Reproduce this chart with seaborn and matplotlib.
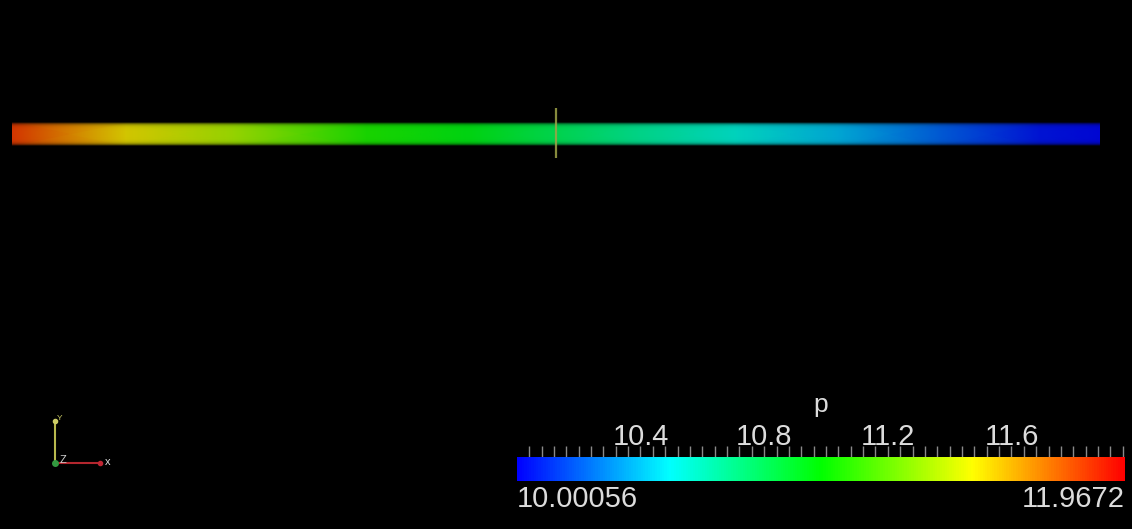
import numpy as np
import matplotlib
matplotlib.use("Agg")
import matplotlib.pyplot as plt
from matplotlib.ticker import MultipleLocator
from matplotlib.colors import Normalize
from matplotlib.cm import ScalarMappable
from matplotlib.transforms import blended_transform_factory
import seaborn as sns

# Pressure sampled along the pipe axis (0 = inlet end, 1 = outlet end)
pipe_pos = [0.0, 0.105, 0.203, 0.326, 0.421, 0.5, 0.575, 0.666, 0.761, 0.853, 0.945, 1.0]
pressure = [11.84, 11.50, 11.33, 11.04, 10.94, 10.80, 10.67, 10.54, 10.39, 10.21, 10.05, 10.02]

# Scalar range and labelled ticks of the field
field_name = "p"
p_min = 10.00056
p_max = 11.9672
p_ticks = [10.4, 10.8, 11.2, 11.6]
p_minor_step = 0.04

# Probe slice location along the pipe
probe_pos = 0.5

sns.set_theme(style="dark", rc={"axes.facecolor": "black",
                                "figure.facecolor": "black",
                                "savefig.facecolor": "black"})
plt.rcParams["font.family"] = ["Liberation Sans", "DejaVu Sans"]

# Blue -> cyan -> green -> yellow -> red rainbow
rainbow = sns.blend_palette(["#0000ff", "#00ffff", "#00ff00", "#ffff00", "#ff0000"],
                            n_colors=256, as_cmap=True)
norm = Normalize(p_min, p_max)

W, H = 1132, 529
fig = plt.figure(figsize=(W / 100, H / 100), dpi=100, facecolor="black")


def px_axes(x0, y0, x1, y1):
    return fig.add_axes([x0 / W, 1 - y1 / H, (x1 - x0) / W, (y1 - y0) / H])


# ---- pipe coloured by pressure ----
ax = px_axes(12, 99, 1100, 169)
n = len(pipe_pos)
X = np.array([pipe_pos, pipe_pos])
Y = np.array([[-1.15] * n, [1.15] * n])
C = np.array([pressure, pressure])
ax.pcolormesh(X, Y, C, cmap=rainbow, norm=norm, shading="gouraud",
              antialiased=False)

# cylinder shading: darker towards the rim, fading into the background
r = np.linspace(-1.2, 1.2, 61)
shade = np.zeros((61, 1, 4))
shade[:, 0, 3] = np.clip(0.18 + 0.82 * (np.abs(r) / 1.2) ** 6, 0, 1)
ax.imshow(shade, extent=(-0.01, 1.01, -1.2, 1.2), aspect="auto", origin="lower",
          interpolation="bilinear", zorder=2)

ax.vlines(probe_pos, -2.4, 2.6, color=(0.62, 0.64, 0.28), lw=1.6, alpha=0.85, zorder=3)
ax.set_xlim(0, 1)
ax.set_ylim(-3.5, 3.5)
ax.axis("off")

# ---- scalar bar ----
cax = px_axes(517, 457, 1125, 481)
cb = fig.colorbar(ScalarMappable(norm=norm, cmap=rainbow), cax=cax, orientation="horizontal")
cb.outline.set_visible(False)
cb.set_ticks(p_ticks)
cb.set_ticklabels([f"{t:.1f}" for t in p_ticks])
cax.xaxis.set_minor_locator(MultipleLocator(p_minor_step))
cax.xaxis.set_ticks_position("top")
cax.xaxis.set_label_position("top")
cax.tick_params(axis="x", which="both", top=True, bottom=False, labeltop=True,
                labelbottom=False, direction="out", length=8, width=1,
                color="#8a8a8a", labelsize=21, labelcolor="#dcdcdc", pad=-4)
cax.grid(False)

lbl = blended_transform_factory(cax.transData, cax.transAxes)
cax.text(p_min, -0.15, f"{p_min}", transform=lbl, ha="left", va="top",
         fontsize=21, color="#dcdcdc")
cax.text(p_max, -0.15, f"{p_max}", transform=lbl, ha="right", va="top",
         fontsize=21, color="#dcdcdc")
cax.text(0.5, 1 + 52 / 24, field_name, transform=cax.transAxes, ha="center",
         va="center", fontsize=19, color="#dcdcdc")

# ---- orientation triad ----
ov = fig.add_axes([0, 0, 1, 1], zorder=-1)
ov.set_xlim(0, W)
ov.set_ylim(H, 0)
ov.axis("off")
ov.plot([55, 55], [421, 463], color=(0.72, 0.72, 0.30), lw=1.5)
ov.plot([56, 100], [463, 463], color=(0.70, 0.15, 0.18), lw=1.5)
ov.plot([55], [421], "o", color=(0.80, 0.80, 0.40), ms=3)
ov.plot([100], [463], "o", color=(0.75, 0.15, 0.20), ms=3)
ov.plot([55], [463], "o", color=(0.20, 0.60, 0.25), ms=4)
ov.text(60, 460, "Z", fontsize=8, color="#cfcfcf", va="center")
ov.text(105, 462, "x", fontsize=8, color="#dddddd", va="center")
ov.text(57, 418, "Y", fontsize=6, color=(0.8, 0.8, 0.4), va="center")

fig.savefig("out.png", dpi=100, facecolor="black")
